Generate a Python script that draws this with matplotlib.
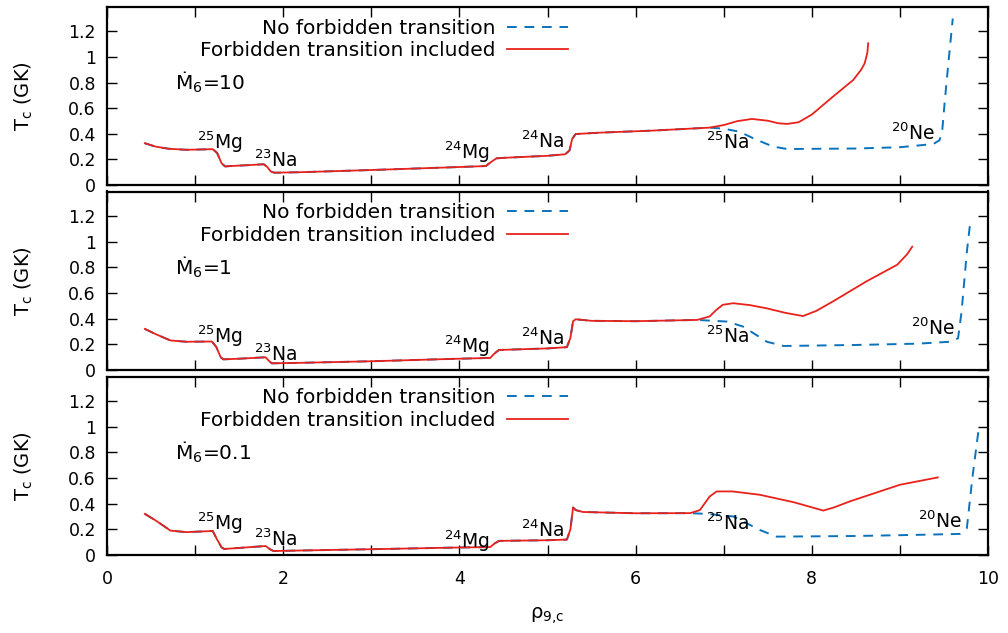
import numpy as np
import matplotlib
matplotlib.use("Agg")
import matplotlib.pyplot as plt
from matplotlib.ticker import MultipleLocator, FixedLocator

# ---------------- data ----------------
panel_labels = ["Ṁ$_6$=10", "Ṁ$_6$=1", "Ṁ$_6$=0.1"]
legend_labels = ["No forbidden transition", "Forbidden transition included"]

# Panel 1 (Mdot=10)
x_common_1 = [0.43, 0.55, 0.7, 0.9, 1.1, 1.2, 1.25, 1.3, 1.34, 1.4, 1.6, 1.78, 1.82, 1.86, 1.9,
              2.2, 3.0, 3.9, 4.3, 4.36, 4.42, 4.5, 5.0, 5.2, 5.25, 5.28, 5.32, 5.6, 6.2, 6.84]
y_common_1 = [0.326, 0.30, 0.283, 0.275, 0.278, 0.28, 0.25, 0.17, 0.145, 0.148, 0.155, 0.162, 0.14,
              0.105, 0.096, 0.10, 0.117, 0.138, 0.148, 0.18, 0.208, 0.212, 0.228, 0.24, 0.27, 0.36,
              0.398, 0.409, 0.425, 0.448]
x_fb_1 = [7.0, 7.15, 7.32, 7.5, 7.62, 7.72, 7.85, 8.0, 8.24, 8.47, 8.56, 8.6, 8.63, 8.64]
y_fb_1 = [0.468, 0.498, 0.516, 0.502, 0.482, 0.477, 0.49, 0.55, 0.69, 0.82, 0.9, 0.95, 1.03, 1.107]
x_nofb_1 = [7.0, 7.18, 7.35, 7.56, 7.72, 8.5, 9.0, 9.38, 9.45, 9.48, 9.51, 9.55, 9.6]
y_nofb_1 = [0.44, 0.416, 0.36, 0.30, 0.281, 0.285, 0.295, 0.32, 0.35, 0.42, 0.66, 0.95, 1.30]

# Panel 2 (Mdot=1)
x_common_2 = [0.43, 0.55, 0.72, 0.9, 1.19, 1.24, 1.29, 1.32, 1.5, 1.8, 1.84, 1.87, 2.2, 3.0, 3.89,
              4.35, 4.4, 4.45, 5.0, 5.22, 5.26, 5.29, 5.32, 5.5, 6.0, 6.7]
y_common_2 = [0.32, 0.28, 0.23, 0.22, 0.222, 0.18, 0.10, 0.083, 0.088, 0.099, 0.07, 0.052, 0.056,
              0.068, 0.086, 0.094, 0.13, 0.156, 0.168, 0.178, 0.25, 0.38, 0.395, 0.383, 0.38, 0.39]
x_fb_2 = [6.84, 6.92, 6.99, 7.11, 7.3, 7.49, 7.7, 7.9, 8.05, 8.24, 8.62, 8.97, 9.08, 9.14]
y_fb_2 = [0.417, 0.47, 0.508, 0.52, 0.505, 0.48, 0.445, 0.42, 0.46, 0.534, 0.69, 0.82, 0.9, 0.96]
x_nofb_2 = [7.04, 7.22, 7.49, 7.68, 8.5, 9.2, 9.57, 9.66, 9.7, 9.76, 9.8]
y_nofb_2 = [0.377, 0.338, 0.22, 0.187, 0.195, 0.205, 0.22, 0.247, 0.455, 0.92, 1.16]

# Panel 3 (Mdot=0.1)
x_common_3 = [0.43, 0.55, 0.72, 0.9, 1.2, 1.25, 1.3, 1.33, 1.5, 1.8, 1.85, 1.89, 2.2, 3.0, 3.89,
              4.35, 4.4, 4.45, 5.0, 5.22, 5.26, 5.29, 5.32, 5.4, 6.0, 6.62]
y_common_3 = [0.32, 0.27, 0.19, 0.178, 0.187, 0.12, 0.06, 0.047, 0.055, 0.07, 0.045, 0.031, 0.035,
              0.045, 0.057, 0.062, 0.09, 0.11, 0.115, 0.12, 0.2, 0.37, 0.35, 0.335, 0.325, 0.326]
x_fb_3 = [6.73, 6.84, 6.92, 7.1, 7.41, 7.8, 8.13, 8.25, 8.43, 9.0, 9.43]
y_fb_3 = [0.35, 0.455, 0.495, 0.495, 0.469, 0.41, 0.346, 0.37, 0.417, 0.547, 0.604]
x_nofb_3 = [6.81, 7.11, 7.41, 7.6, 8.5, 9.2, 9.68, 9.76, 9.82, 9.89]
y_nofb_3 = [0.32, 0.30, 0.195, 0.143, 0.148, 0.157, 0.164, 0.209, 0.586, 0.96]

# nuclide annotations: (text, x, y) per panel
iso_texts = ["$^{25}$Mg", "$^{23}$Na", "$^{24}$Mg", "$^{24}$Na", "$^{25}$Na", "$^{20}$Ne"]
iso_x_1 = [1.28, 1.91, 4.09, 4.95, 7.05, 9.15]
iso_y_1 = [0.33, 0.19, 0.255, 0.345, 0.33, 0.405]
iso_x_2 = [1.28, 1.91, 4.09, 4.95, 7.05, 9.37]
iso_y_2 = [0.265, 0.125, 0.185, 0.245, 0.265, 0.325]
iso_x_3 = [1.28, 1.91, 4.09, 4.95, 7.05, 9.46]
iso_y_3 = [0.245, 0.125, 0.105, 0.195, 0.245, 0.265]

xticks_major = [0, 2, 4, 6, 8, 10]
yticks = [0, 0.2, 0.4, 0.6, 0.8, 1, 1.2]
ytick_labels = ["0", "0.2", "0.4", "0.6", "0.8", "1", "1.2"]

# ---------------- plotting ----------------
RED = "#e8221b"
BLUE = "#0a72bd"

plt.rcParams["font.family"] = ["DejaVu Sans"]
plt.rcParams["mathtext.fontset"] = "dejavusans"

fig = plt.figure(figsize=(10.08, 6.33), dpi=100)
W, H = 1008, 633
left_px, right_px = 107, 988
panels_px = [(7, 185), (191.5, 370), (376.5, 555)]

panels = [
    (x_common_1, y_common_1, x_fb_1, y_fb_1, x_nofb_1, y_nofb_1, iso_x_1, iso_y_1),
    (x_common_2, y_common_2, x_fb_2, y_fb_2, x_nofb_2, y_nofb_2, iso_x_2, iso_y_2),
    (x_common_3, y_common_3, x_fb_3, y_fb_3, x_nofb_3, y_nofb_3, iso_x_3, iso_y_3),
]

for i, ((top, bot), data) in enumerate(zip(panels_px, panels)):
    xc, yc, xf, yf, xn, yn, ix, iy = data
    ax = fig.add_axes([left_px / W, (H - bot) / H, (right_px - left_px) / W, (bot - top) / H])
    ax.set_xlim(0, 10)
    ax.set_ylim(0, 1.39)

    xb = np.concatenate([xc, xn]); yb = np.concatenate([yc, yn])
    xr = np.concatenate([xc, xf]); yr = np.concatenate([yc, yf])
    lb, = ax.plot(xb, yb, color=BLUE, lw=1.4, dashes=(5, 4), zorder=2,
                  label=legend_labels[0])
    lr, = ax.plot(xr, yr, color=RED, lw=1.3, zorder=3, label=legend_labels[1])

    ax.legend(handles=[lb, lr], loc="upper right", bbox_to_anchor=(0.523, 0.935),
              frameon=False, markerfirst=False, fontsize=14.5, handlelength=3.0,
              handletextpad=0.6, labelspacing=0.18, borderaxespad=0.0, borderpad=0.0)

    ax.text(0.77, 0.80, panel_labels[i], fontsize=14.5, ha="left", va="center")

    for t, xx, yy in zip(iso_texts, ix, iy):
        ax.text(xx, yy, t, fontsize=13.5, ha="center", va="center")

    ax.xaxis.set_major_locator(FixedLocator(xticks_major))
    ax.xaxis.set_minor_locator(MultipleLocator(1))
    ax.yaxis.set_major_locator(FixedLocator(yticks))
    ax.set_yticklabels(ytick_labels)
    ax.tick_params(axis="both", which="both", direction="in", top=True, right=True,
                   labelsize=12.5, width=1.0)
    ax.tick_params(axis="both", which="major", length=7)
    ax.tick_params(axis="x", which="minor", length=7)
    ax.tick_params(axis="y", pad=8)
    for sp in ax.spines.values():
        sp.set_linewidth(1.6)
    ax.set_ylabel("T$_{\\rm c}$ (GK)", fontsize=14, labelpad=24)
    if i < 2:
        ax.set_xticklabels([])
    else:
        ax.set_xticklabels([str(v) for v in xticks_major])
        ax.tick_params(axis="x", pad=11)
        ax.set_xlabel("ρ$_{9{,}\\rm c}$", fontsize=14, labelpad=12)

fig.savefig("out.png", dpi=100)
